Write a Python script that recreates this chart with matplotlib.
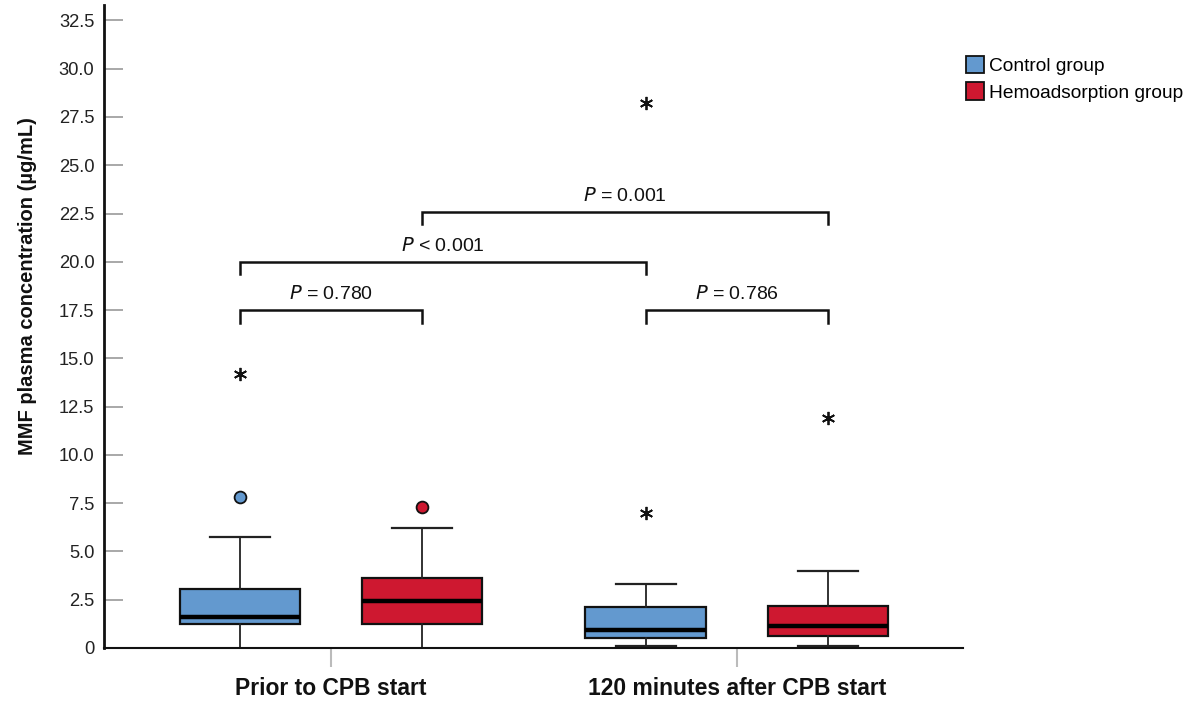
import matplotlib
matplotlib.use("Agg")
import matplotlib.pyplot as plt
from matplotlib.patches import Patch

plt.rcParams['font.family'] = ['Liberation Sans', 'DejaVu Sans']

# ---- data ----
categories = ["Prior to CPB start", "120 minutes after CPB start"]
groups = ["Control group", "Hemoadsorption group"]
colors = ["#6399CF", "#CE1830"]

# box stats per (time, group): whislo, q1, med, q3, whishi
control_stats = [[0.0, 1.24, 1.6, 3.05, 5.75], [0.1, 0.52, 0.93, 2.1, 3.3]]
hemo_stats = [[0.0, 1.24, 2.42, 3.6, 6.2], [0.1, 0.6, 1.13, 2.2, 4.0]]

# outliers: circles (mild) and stars (extreme)
control_circles = [[7.8], []]
hemo_circles = [[7.3], []]
control_stars = [[14.2], [7.0, 28.2]]
hemo_stars = [[], [11.9]]

# significance brackets: (box_i, box_j, height, p-value, operator)
brackets = [(0, 1, 17.5, "0.780", "="), (2, 3, 17.5, "0.786", "="),
            (0, 2, 20.0, "0.001", "<"), (1, 3, 22.6, "0.001", "=")]

yticks = [0, 2.5, 5, 7.5, 10, 12.5, 15, 17.5, 20, 22.5, 25, 27.5, 30, 32.5]

# ---- figure ----
fig = plt.figure(figsize=(11.96, 7.03), dpi=100)
ax = fig.add_axes([104/1196, 1-648/703, (963-104)/1196, 643/703])

offset = 0.225
width = 0.296
positions = []
stats = []
facecols = []
for i in range(2):
    for g, st in enumerate([control_stats[i], hemo_stats[i]]):
        positions.append(i + 1 + (-offset if g == 0 else offset))
        stats.append(dict(whislo=st[0], q1=st[1], med=st[2], q3=st[3], whishi=st[4], fliers=[]))
        facecols.append(colors[g])

bp = ax.bxp(stats, positions=positions, widths=width, patch_artist=True,
            showfliers=False, capwidths=width/2,
            boxprops=dict(edgecolor="#111111", linewidth=1.6),
            medianprops=dict(color="black", linewidth=3.2),
            whiskerprops=dict(color="#222222", linewidth=1.3),
            capprops=dict(color="#222222", linewidth=1.6))
for b, c in zip(bp["boxes"], facecols):
    b.set_facecolor(c)
for k, st in enumerate(stats):
    if st["whislo"] <= 0:
        bp["caps"][2*k].set_visible(False)

circles = [control_circles[0], hemo_circles[0], control_circles[1], hemo_circles[1]]
stars = [control_stars[0], hemo_stars[0], control_stars[1], hemo_stars[1]]
for k in range(4):
    if circles[k]:
        ax.plot([positions[k]]*len(circles[k]), circles[k], 'o', ms=8.5,
                mfc=facecols[k], mec="#111111", mew=1.3, zorder=4)
    if stars[k]:
        ax.plot([positions[k]]*len(stars[k]), stars[k], linestyle='none',
                marker=(6, 2, 0), ms=9.5, mec="#111111", mew=1.3, zorder=4)

for i, j, h, lab, op in brackets:
    x1, x2 = positions[i], positions[j]
    ax.plot([x1, x1, x2, x2], [h-0.65, h, h, h-0.65], color="#111111", lw=1.8,
            solid_joinstyle='miter')
    ax.text((x1+x2)/2, h+0.35, r"$\it{P}$" + f" {op} {lab}", ha="center", va="bottom",
            fontsize=14, color="#111111")

ax.set_xlim(0.441, 2.557)
ax.set_ylim(0, 33.3)
ax.set_yticks(yticks)
ax.set_yticklabels(["0"] + [f"{v:.1f}" for v in yticks[1:]])
ax.set_xticks([1, 2])
ax.set_xticklabels(categories, fontsize=16.5, fontweight="bold", color="#111111")
ax.tick_params(axis='y', direction='in', length=14, color="#999999", width=1.2,
               labelsize=13.2, labelcolor="#222222", pad=7)
ax.tick_params(axis='x', direction='out', length=14, color="#bbbbbb", width=1.5, pad=7)
ax.set_ylabel("MMF plasma concentration (µg/mL)", fontsize=14.5, fontweight="bold",
              color="#111111")
ax.yaxis.set_label_coords((37-104)/859, (648-286)/643)
for s in ["top", "right"]:
    ax.spines[s].set_visible(False)
ax.spines["left"].set_linewidth(2.0)
ax.spines["left"].set_color("#111111")
ax.spines["bottom"].set_linewidth(1.5)
ax.spines["bottom"].set_color("#111111")

handles = [Patch(facecolor=c, edgecolor="#111111", linewidth=1.3) for c in colors]
fig.legend(handles, groups, loc="upper left", bbox_to_anchor=(966/1196, 1-56/703),
           frameon=False, fontsize=13.8, handlelength=0.95, handleheight=1.0,
           handletextpad=0.25, labelspacing=0.38, borderaxespad=0, borderpad=0)

fig.savefig("out.png", dpi=100, facecolor="white")
